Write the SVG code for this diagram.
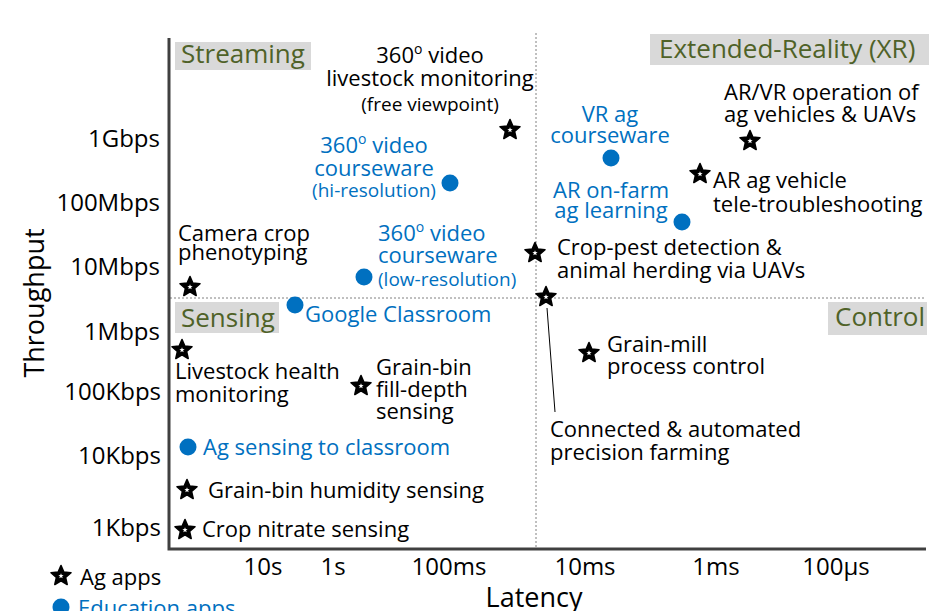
<svg xmlns="http://www.w3.org/2000/svg" width="929" height="611" viewBox="0 0 929 611">
<style>
text{font-family:"Open Sans","Liberation Sans",sans-serif;}
.lbl{font-size:22px;fill:#000;}
.blue{fill:#0070c0;}
.sm{font-size:19px;}
.sup{font-size:14px;}
.tick{font-size:24px;fill:#000;}
.quad{font-size:26px;fill:#4f6228;}
.qbox{fill:#d9d9d9;}
.axt{font-size:27px;fill:#000;}
.dot{fill:#0070c0;}
.axis{stroke:#404040;stroke-width:3;fill:none;}
.dash{stroke:#808080;stroke-width:1;stroke-dasharray:2,2;fill:none;}
.conn{stroke:#000;stroke-width:1;fill:none;}
</style>
<defs>
<g id="star">
<polygon points="0,-10.5 2.82,-3.88 10,-3.24 4.56,1.48 6.17,8.5 0,4.8 -6.17,8.5 -4.56,1.48 -10,-3.24 -2.82,-3.88" fill="#000" stroke="#000" stroke-width="1.6" stroke-linejoin="round"/>
<polygon points="0,-2.8 0.69,-0.95 2.66,-0.86 1.11,0.36 1.65,2.27 0,1.17 -1.65,2.27 -1.11,0.36 -2.66,-0.86 -0.69,-0.95" fill="#fff"/>
</g>
</defs>
<rect width="929" height="611" fill="#fff"/>

<g id="axes">
<line class="dash" x1="536" y1="33" x2="536" y2="548"/>
<line class="dash" x1="170" y1="298" x2="926" y2="298"/>
<polyline class="axis" points="169,38 169,549 926,549"/>
<g class="tick" text-anchor="end">
<text x="160" y="147">1Gbps</text>
<text x="160" y="211">100Mbps</text>
<text x="160" y="275">10Mbps</text>
<text x="160" y="340">1Mbps</text>
<text x="161" y="400">100Kbps</text>
<text x="161" y="464">10Kbps</text>
<text x="161" y="536">1Kbps</text>
</g>
<g class="tick" text-anchor="middle">
<text x="263" y="575">10s</text>
<text x="333" y="575">1s</text>
<text x="449" y="575">100ms</text>
<text x="585" y="575">10ms</text>
<text x="716" y="575">1ms</text>
<text x="836" y="575">100µs</text>
</g>
<text class="axt" text-anchor="middle" transform="translate(44,303) rotate(-90)">Throughput</text>
<text class="axt" text-anchor="middle" x="534" y="607">Latency</text>
</g>

<g id="quad-streaming">
<rect class="qbox" x="175" y="42" width="136" height="28"/>
<text class="quad" x="181" y="63">Streaming</text>
</g>
<g id="quad-xr">
<rect class="qbox" x="650" y="34" width="279" height="31"/>
<text class="quad" x="659" y="58">Extended-Reality (XR)</text>
</g>
<g id="quad-sensing">
<rect class="qbox" x="175" y="302" width="104" height="31"/>
<text class="quad" x="181" y="327">Sensing</text>
</g>
<g id="quad-control">
<rect class="qbox" x="828" y="302" width="99" height="33"/>
<text class="quad" x="835" y="326">Control</text>
</g>

<g id="connectors">
<line class="conn" x1="547" y1="308" x2="555" y2="412"/>
</g>

<g id="n-livestock360">
<use href="#star" x="510" y="130"/>
<text class="lbl" x="430" y="63" text-anchor="middle">360<tspan class="sup" dy="-9">o</tspan><tspan dy="9"> video</tspan></text>
<text class="lbl" x="430" y="86" text-anchor="middle">livestock monitoring</text>
<text class="lbl sm" x="430" y="111" text-anchor="middle">(free viewpoint)</text>
</g>

<g id="n-hires">
<circle class="dot" cx="450" cy="183" r="8.5"/>
<text class="lbl blue" x="374" y="153" text-anchor="middle">360<tspan class="sup" dy="-9">o</tspan><tspan dy="9"> video</tspan></text>
<text class="lbl blue" x="374" y="176" text-anchor="middle">courseware</text>
<text class="lbl blue sm" x="374" y="197" text-anchor="middle">(hi-resolution)</text>
</g>

<g id="n-lowres">
<circle class="dot" cx="364" cy="277" r="8.5"/>
<text class="lbl blue" x="378" y="241">360<tspan class="sup" dy="-9">o</tspan><tspan dy="9"> video</tspan></text>
<text class="lbl blue" x="378" y="263">courseware</text>
<text class="lbl blue sm" x="378" y="286">(low-resolution)</text>
</g>

<g id="n-camera">
<use href="#star" x="190" y="287"/>
<text class="lbl" x="178" y="241">Camera crop</text>
<text class="lbl" x="178" y="260">phenotyping</text>
</g>

<g id="n-vr">
<circle class="dot" cx="611" cy="158" r="8.5"/>
<text class="lbl blue" x="610" y="122" text-anchor="middle">VR ag</text>
<text class="lbl blue" x="610" y="143" text-anchor="middle">courseware</text>
</g>

<g id="n-ar-farm">
<circle class="dot" cx="682" cy="222" r="8.5"/>
<text class="lbl blue" x="611" y="198" text-anchor="middle">AR on-farm</text>
<text class="lbl blue" x="611" y="218" text-anchor="middle">ag learning</text>
</g>

<g id="n-arvr">
<use href="#star" x="750" y="141"/>
<text class="lbl" x="724" y="100">AR/VR operation of</text>
<text class="lbl" x="724" y="122">ag vehicles &amp; UAVs</text>
</g>

<g id="n-ar-vehicle">
<use href="#star" x="700" y="174"/>
<text class="lbl" x="713" y="188">AR ag vehicle</text>
<text class="lbl" x="713" y="212">tele-troubleshooting</text>
</g>

<g id="n-croppest">
<use href="#star" x="535" y="253"/>
<text class="lbl" x="557" y="255">Crop-pest detection &amp;</text>
<text class="lbl" x="557" y="278">animal herding via UAVs</text>
</g>

<g id="n-precision">
<use href="#star" x="546" y="297"/>
<text class="lbl" x="550" y="437">Connected &amp; automated</text>
<text class="lbl" x="550" y="460">precision farming</text>
</g>

<g id="n-google">
<circle class="dot" cx="295" cy="305" r="8.5"/>
<text class="lbl blue" x="305" y="322">Google Classroom</text>
</g>

<g id="n-livestock-health">
<use href="#star" x="182" y="350"/>
<text class="lbl" x="175" y="379">Livestock health</text>
<text class="lbl" x="175" y="402">monitoring</text>
</g>

<g id="n-filldepth">
<use href="#star" x="361" y="386"/>
<text class="lbl" x="376" y="375">Grain-bin</text>
<text class="lbl" x="376" y="397">fill-depth</text>
<text class="lbl" x="376" y="419">sensing</text>
</g>

<g id="n-grainmill">
<use href="#star" x="589" y="353"/>
<text class="lbl" x="607" y="352">Grain-mill</text>
<text class="lbl" x="607" y="374">process control</text>
</g>

<g id="n-agsensing">
<circle class="dot" cx="188" cy="447" r="8.5"/>
<text class="lbl blue" x="203" y="455">Ag sensing to classroom</text>
</g>

<g id="n-humidity">
<use href="#star" x="187" y="490"/>
<text class="lbl" x="208" y="498">Grain-bin humidity sensing</text>
</g>

<g id="n-nitrate">
<use href="#star" x="185" y="530"/>
<text class="lbl" x="202" y="537">Crop nitrate sensing</text>
</g>

<g id="legend">
<use href="#star" x="61" y="576"/>
<text class="lbl" x="80" y="585">Ag apps</text>
<circle class="dot" cx="61" cy="607" r="8.5"/>
<text class="lbl blue" x="78" y="616">Education apps</text>
</g>
</svg>
